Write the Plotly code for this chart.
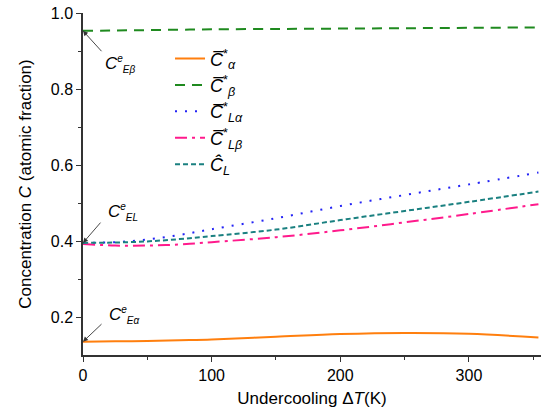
import plotly.graph_objects as go

undercooling = [0, 25, 50, 75, 100, 150, 200, 250, 300, 354]
c_alpha = [0.135, 0.136, 0.137, 0.139, 0.141, 0.148, 0.155, 0.158, 0.156, 0.146]
c_beta = [0.953, 0.954, 0.955, 0.956, 0.957, 0.958, 0.959, 0.960, 0.961, 0.962]
c_l_alpha = [0.395, 0.397, 0.404, 0.416, 0.431, 0.460, 0.492, 0.521, 0.549, 0.580]
c_l_beta = [0.392, 0.388, 0.388, 0.391, 0.397, 0.410, 0.428, 0.449, 0.471, 0.497]
c_l_hat = [0.395, 0.396, 0.399, 0.405, 0.413, 0.430, 0.455, 0.479, 0.503, 0.530]

series = [
    ("<i>C̅</i><sup>*</sup><sub><i>α</i></sub>", c_alpha, "#ff7f0e", "solid"),
    ("<i>C̅</i><sup>*</sup><sub><i>β</i></sub>", c_beta, "#1f8a1f", "10px,7px"),
    ("<i>C̅</i><sup>*</sup><sub><i>Lα</i></sub>", c_l_alpha, "#2323f5", "2px,8px"),
    ("<i>C̅</i><sup>*</sup><sub><i>Lβ</i></sub>", c_l_beta, "#ff1a8c", "12px,5px,3px,5px"),
    ("<i>Ĉ</i><sub><i>L</i></sub>", c_l_hat, "#1a8080", "5px,3px"),
]

fig = go.Figure()
for name, vals, color, dash in series:
    fig.add_trace(go.Scatter(x=undercooling, y=vals, mode="lines", name=name,
                             line=dict(color=color, width=2, dash=dash, shape="spline")))

font = "Liberation Sans, Arial, sans-serif"
small = "<span style='font-size:10px'>{}</span>"
# labels: (text, label x, label y, arrow head y, arrow tail offset)
annos = [
    ("<i>C</i><sup>" + small.format("<i>e</i>") + "</sup><sub>" + small.format("<i>Eβ</i>") + "</sub>",
     15.5, 0.866, c_beta[0], 20, 22),
    ("<i>C</i><sup>" + small.format("<i>e</i>") + "</sup><sub>" + small.format("<i>EL</i>") + "</sub>",
     17.5, 0.476, c_l_alpha[0], 19, -22),
    ("<i>C</i><sup>" + small.format("<i>e</i>") + "</sup><sub>" + small.format("<i>Eα</i>") + "</sub>",
     18.5, 0.205, c_alpha[0], 20, -19),
]
for txt, lx, ly, hy, ax, ay in annos:
    fig.add_annotation(x=lx, y=ly, xref="x", yref="y", text=txt, showarrow=False,
                       xanchor="left", font=dict(size=17, color="black", family=font))
    fig.add_annotation(x=0, y=hy, xref="x", yref="y", text=" ", showarrow=True,
                       arrowhead=2, arrowsize=1.1, arrowwidth=0.9, arrowcolor="#333",
                       ax=ax, ay=ay, font=dict(size=1))

axis_common = dict(showline=True, linecolor="#333", linewidth=1.5, ticks="outside",
                   ticklen=5, tickwidth=1.2, tickcolor="#333", showgrid=False, zeroline=False,
                   tickfont=dict(size=16, color="black", family=font), mirror=False,
                   automargin=False)

fig.update_layout(
    width=544, height=416,
    margin=dict(l=83, r=3, t=13, b=61),
    paper_bgcolor="white", plot_bgcolor="white",
    font=dict(family=font, color="black"),
    xaxis=dict(range=[0, 356], tickvals=[0, 100, 200, 300],
               minor=dict(tickvals=[50, 150, 250, 350], ticks="outside", ticklen=3, tickcolor="#333"),
               title=dict(text="Undercooling Δ<i>T</i>(K)", font=dict(size=17), standoff=9),
               **axis_common),
    yaxis=dict(range=[0.1, 1.0], tickvals=[0.2, 0.4, 0.6, 0.8, 1.0], tickformat=".1f",
               minor=dict(tickvals=[0.3, 0.5, 0.7, 0.9], ticks="outside", ticklen=3, tickcolor="#333"),
               title=dict(text="Concentration <i>C</i> (atomic fraction)", font=dict(size=17)),
               **axis_common),
    legend=dict(x=0.19, y=0.92, xanchor="left", yanchor="top", bgcolor="rgba(0,0,0,0)",
                font=dict(size=18, family=font), tracegroupgap=0),
    showlegend=True,
)

# remove the default 8px page margin so the figure fills the window exactly
fig.write_html("out.html", config={"displayModeBar": False},
               post_script="document.body.style.margin='0';")
